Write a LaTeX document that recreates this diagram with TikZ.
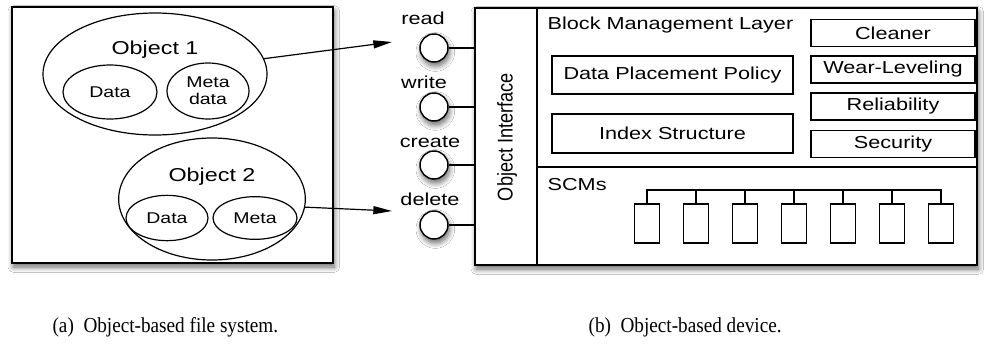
\documentclass[tikz,border=0pt]{standalone}
\usepackage{fontspec}
\setmainfont{Liberation Sans}[FakeStretch=1.25]
\newfontfamily\condfont{Liberation Sans}[FakeStretch=0.85]
\newfontfamily\capfont{Liberation Serif}[FakeStretch=0.9]
\usetikzlibrary{shapes.geometric,arrows.meta,shadows.blur}
\begin{document}
\begin{tikzpicture}[x=0.75pt,y=-0.75pt,line width=0.9pt,
  shad/.style={blur shadow={shadow blur steps=8,shadow xshift=1pt,shadow yshift=-3pt,shadow opacity=60,shadow blur radius=4pt}},
  ell/.style={draw,ellipse,inner sep=0pt,fill=white},
  rbox/.style={draw,rectangle,inner sep=0pt,fill=white},
  lbl/.style={font=\fontsize{13}{15}\selectfont,inner sep=0pt},
  small/.style={font=\fontsize{11.7}{12.5}\selectfont,align=center,inner sep=0pt},
  port/.style={draw,circle,minimum size=21pt,inner sep=0pt,fill=white,line width=1.1pt,shad},
  chip/.style={draw,rectangle,minimum width=18.75pt,minimum height=29.25pt,inner sep=0pt},
  side/.style={rbox,minimum width=123pt,minimum height=20.25pt,font=\fontsize{13}{15}\selectfont},
  arr/.style={-{Triangle[length=14pt,width=6pt]}},
  captext/.style={font=\capfont\fontsize{16}{18}\selectfont,anchor=west,inner sep=0pt}]
\useasboundingbox (0,0) rectangle (984,343);
\fill[white] (0,0) rectangle (984,343);
% left panel
\node[rbox,shad,minimum width=240.75pt,minimum height=192pt] (fs) at (172.5,135) {};
\node[ell,minimum width=168pt,minimum height=91.5pt] (o1) at (155,74) {};
\node[font=\fontsize{14}{16}\selectfont,inner sep=0pt] (o1t) at (155,50) {Object 1};
\node[ell,minimum width=70.5pt,minimum height=40.5pt,small] (d1) at (110,92) {Data};
\node[ell,minimum width=61.5pt,minimum height=42pt,small] (m1) at (208,91) {Meta\\data};
\node[ell,minimum width=140pt,minimum height=91.5pt] (o2) at (212,199) {};
\node[font=\fontsize{14}{16}\selectfont,inner sep=0pt] (o2t) at (212,177) {Object 2};
\node[ell,minimum width=61.5pt,minimum height=34pt,small] (d2) at (167,218) {Data};
\node[ell,minimum width=63pt,minimum height=32pt,small] (m2) at (255,218) {Meta};
% device
\node[rbox,shad,minimum width=376.5pt,minimum height=192.75pt] (dev) at (726,136.5) {};
\node[rbox,minimum width=46.5pt,minimum height=192.75pt] (oi) at (506,136.5) {};
\node[rotate=90,font=\condfont\fontsize{16}{18}\selectfont,inner sep=0pt] (oit) at (507,137) {Object Interface};
\node[draw,rectangle,inner sep=0pt,minimum width=330pt,minimum height=119.25pt] (bml) at (757,87.5) {};
\node[draw,rectangle,inner sep=0pt,minimum width=330pt,minimum height=73.5pt] (scm) at (757,216) {};
\node[lbl,anchor=west] (bmlt) at (547,25) {Block Management Layer};
\node[lbl,anchor=west] (scmt) at (547,185) {SCMs};
\node[rbox,minimum width=180.75pt,minimum height=28.5pt,lbl] (dpp) at (672.5,75) {Data Placement Policy};
\node[rbox,minimum width=180.75pt,minimum height=29.25pt,lbl] (idx) at (672.5,133.5) {Index Structure};
\node[side] (cl) at (893,33) {Cleaner};
\node[side] (wl) at (893,69.5) {Wear-Leveling};
\node[side] (rel) at (893,106.5) {Reliability};
\node[side] (sec) at (893,144) {Security};
% chips
\foreach \i in {0,...,6}{
  \node[chip] (s\i) at ({647+49*\i},223.5) {};
}
\coordinate (bus) at (647,190);
\draw (s0.north) -- (bus) -| (s6.north);
\foreach \i in {1,...,5}{
  \draw (s\i.north) -- (s\i.north |- bus);
}
% ports
\node[port] (p1) at (434,48) {};
\node[port] (p2) at (434,107) {};
\node[port] (p3) at (434,165) {};
\node[port] (p4) at (434,225) {};
\node[lbl] at (423,18) {read};
\node[lbl] at (424,82) {write};
\node[lbl] at (430,142) {create};
\node[lbl] at (430,199) {delete};
\foreach \i in {1,...,4}{
  \draw (p\i.east) -- (p\i.east -| oi.west);
}
% arrows
\coordinate (a1) at (392,42);
\coordinate (a2) at (392,211);
\draw[arr] (o1.8) -- (a1);
\draw[arr] (o2.-5) -- (a2);
% captions
\node[captext] (capa) at (52,327) {(a)\ \ Object-based file system.};
\node[captext] (capb) at (588,327) {(b)\ \ Object-based device.};
\end{tikzpicture}
\end{document}
